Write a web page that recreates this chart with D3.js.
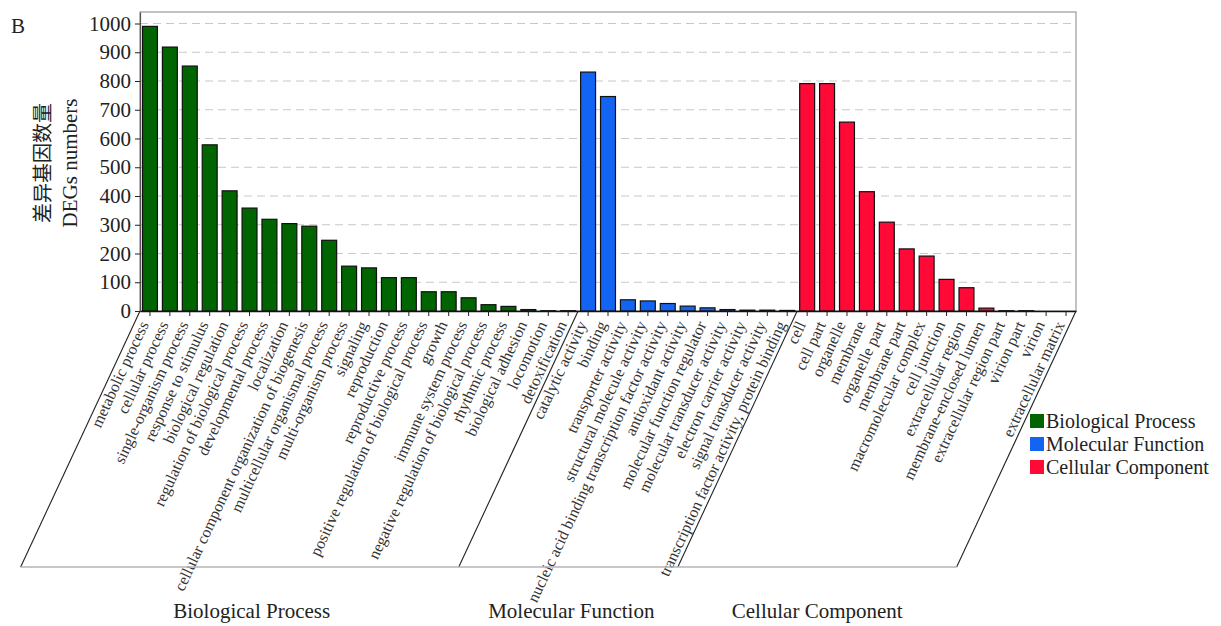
<!DOCTYPE html>
<html>
<head>
<meta charset="utf-8">
<script src="https://cdn.jsdelivr.net/npm/d3@7"></script>
<style>
  body { margin: 0; background: #fff; }
  svg { display: block; }
</style>
</head>
<body>
<svg id="chart" width="1221" height="626"></svg>
<script>
// GO terms and number of DEGs per term, one pair of arrays per ontology
const bpTerms = [
  "metabolic process", "cellular process", "single-organism process",
  "response to stimulus", "biological regulation", "regulation of biological process",
  "developmental process", "localization", "cellular component organization of biogenesis",
  "multicellular organismal process", "multi-organism process", "signaling",
  "reproduction", "reproductive process", "positive regulation of biological process",
  "growth", "immune system process", "negative regulation of biological process",
  "rhythmic process", "biological adhesion", "locomotion", "detoxification"
];
const bpValues = [990, 918, 852, 578, 418, 358, 319, 304, 295, 246, 156, 150,
                  116, 116, 67, 67, 46, 22, 16, 5, 1, 1];

const mfTerms = [
  "catalytic activity", "binding", "transporter activity", "structural molecule activity",
  "nucleic acid binding transcription factor activity", "antioxidant activity",
  "molecular function regulator", "molecular transducer activity",
  "electron carrier activity", "signal transducer activity",
  "transcription factor activity, protein binding"
];
const mfValues = [831, 746, 39, 35, 26, 17, 11, 5, 3, 3, 2];

const ccTerms = [
  "cell", "cell part", "organelle", "membrane", "organelle part", "membrane part",
  "macromolecular complex", "cell junction", "extracellular region",
  "membrane-enclosed lumen", "extracellular region part", "virion part",
  "virion", "extracellular matrix"
];
const ccValues = [791, 791, 657, 415, 309, 216, 191, 110, 81, 10, 1, 1, 0, 0];

const groupNames = ["Biological Process", "Molecular Function", "Cellular Component"];
const groupColors = ["#006400", "#1464f4", "#ff0a36"];
const yTicks = [0, 100, 200, 300, 400, 500, 600, 700, 800, 900, 1000];

// ---- flatten into one ordered list of bars ----
const groups = [
  { name: groupNames[0], color: groupColors[0], terms: bpTerms, values: bpValues },
  { name: groupNames[1], color: groupColors[1], terms: mfTerms, values: mfValues },
  { name: groupNames[2], color: groupColors[2], terms: ccTerms, values: ccValues }
];
const bars = [];
groups.forEach((g, gi) => {
  g.start = bars.length;
  g.terms.forEach((t, i) => bars.push({ idx: bars.length, term: t, value: g.values[i], group: gi }));
  g.end = bars.length;
});

const serif = "'Liberation Serif', 'Times New Roman', Times, serif";
const svg = d3.select("#chart");

const plot = { left: 140, right: 1076, top: 12, bottom: 311 };
const baseY = 567;              // bottom edge of the slanted group brackets
const slant = 65;               // label / bracket angle in degrees
const titleNudge = [12, 3, 0];  // horizontal fine-tuning of the group titles

const x = d3.scaleBand()
  .domain(bars.map(d => d.idx))
  .range([plot.left, plot.right])
  .paddingInner(0.25)
  .paddingOuter(0.125);
const step = x.step();

const y = d3.scaleLinear().domain([0, 1040]).range([plot.bottom, plot.top]);

// ---- grid ----
svg.append("g")
  .selectAll("line")
  .data(yTicks.filter(v => v > 0))
  .join("line")
  .attr("x1", plot.left).attr("x2", plot.right)
  .attr("y1", d => y(d)).attr("y2", d => y(d))
  .attr("stroke", "#c8c8c8")
  .attr("stroke-width", 1)
  .attr("stroke-dasharray", "8,5");

// ---- frame ----
svg.append("rect")
  .attr("x", plot.left).attr("y", plot.top)
  .attr("width", plot.right - plot.left).attr("height", plot.bottom - plot.top)
  .attr("fill", "none").attr("stroke", "#9a9a9a").attr("stroke-width", 1.2);

// ---- bars ----
svg.append("g")
  .selectAll("rect")
  .data(bars)
  .join("rect")
  .attr("x", d => x(d.idx))
  .attr("width", x.bandwidth())
  .attr("y", d => y(d.value))
  .attr("height", d => y(0) - y(d.value))
  .attr("fill", d => groups[d.group].color)
  .attr("stroke", "#111")
  .attr("stroke-width", 1.2);

// ---- y axis ----
const yAxis = svg.append("g")
  .attr("transform", `translate(${plot.left},0)`)
  .call(d3.axisLeft(y).tickValues(yTicks).tickFormat(d3.format("d"))
    .tickSize(5).tickSizeOuter(0).tickPadding(4));
yAxis.select(".domain").attr("stroke", "#555").attr("stroke-width", 1.2);
yAxis.selectAll(".tick line").attr("stroke", "#222");
yAxis.selectAll("text")
  .attr("font-family", serif).attr("font-size", 21).attr("fill", "#222");

// ---- x axis with rotated term labels ----
const xAxis = svg.append("g")
  .attr("transform", `translate(0,${plot.bottom})`)
  .call(d3.axisBottom(x).tickSize(5).tickSizeOuter(0).tickFormat(i => bars[i].term));
xAxis.select(".domain").attr("stroke", "#111").attr("stroke-width", 1.6);
xAxis.selectAll(".tick line").attr("stroke", "#222");
xAxis.selectAll("text")
  .attr("font-family", serif).attr("font-size", 16).attr("fill", "#333")
  .attr("text-anchor", "end")
  .attr("x", 0).attr("y", 0).attr("dy", "0.35em")
  .attr("transform", `translate(-6,11) rotate(${-slant})`);

// ---- slanted group brackets ----
const dxSlant = (baseY - plot.bottom) / Math.tan(slant * Math.PI / 180);
const bounds = [plot.left + step * groups[0].start]
  .concat(groups.map(g => plot.left + step * g.end));
svg.append("g")
  .selectAll("line")
  .data(bounds)
  .join("line")
  .attr("x1", d => d).attr("y1", plot.bottom)
  .attr("x2", d => d - dxSlant).attr("y2", baseY)
  .attr("stroke", "#222").attr("stroke-width", 1.1);
svg.append("line")
  .attr("x1", bounds[0] - dxSlant).attr("x2", bounds[bounds.length - 1] - dxSlant)
  .attr("y1", baseY).attr("y2", baseY)
  .attr("stroke", "#b5b5b5").attr("stroke-width", 1.5);

// ---- group titles under the brackets ----
svg.append("g")
  .selectAll("text")
  .data(groups)
  .join("text")
  .attr("x", (g, i) => (bounds[i] + bounds[i + 1]) / 2 - dxSlant + titleNudge[i])
  .attr("y", 618)
  .attr("text-anchor", "middle")
  .attr("font-family", serif).attr("font-size", 21).attr("fill", "#222")
  .text(g => g.name);

// ---- y axis title ----
const yTitle = svg.append("g").attr("transform", "translate(0,163) rotate(-90)");
yTitle.append("text")
  .attr("x", 0).attr("y", 43).attr("dy", "0.35em")
  .attr("text-anchor", "middle")
  .attr("font-family", "'Noto Sans CJK SC', sans-serif").attr("font-size", 20).attr("fill", "#222")
  .text("差异基因数量");
yTitle.append("text")
  .attr("x", 0).attr("y", 70).attr("dy", "0.35em")
  .attr("text-anchor", "middle")
  .attr("font-family", serif).attr("font-size", 21).attr("fill", "#222")
  .text("DEGs numbers");

// ---- panel letter ----
svg.append("text")
  .attr("x", 11).attr("y", 33)
  .attr("font-family", serif).attr("font-size", 21).attr("fill", "#222")
  .text("B");

// ---- legend ----
const legend = svg.append("g").attr("transform", "translate(1030,414)");
const row = legend.selectAll("g")
  .data(groups)
  .join("g")
  .attr("transform", (d, i) => `translate(0,${i * 23})`);
row.append("rect")
  .attr("width", 14).attr("height", 14)
  .attr("fill", d => d.color);
row.append("text")
  .attr("x", 16).attr("y", 7).attr("dy", "0.35em")
  .attr("font-family", serif).attr("font-size", 20).attr("fill", "#222")
  .text(d => d.name);
</script>
</body>
</html>
